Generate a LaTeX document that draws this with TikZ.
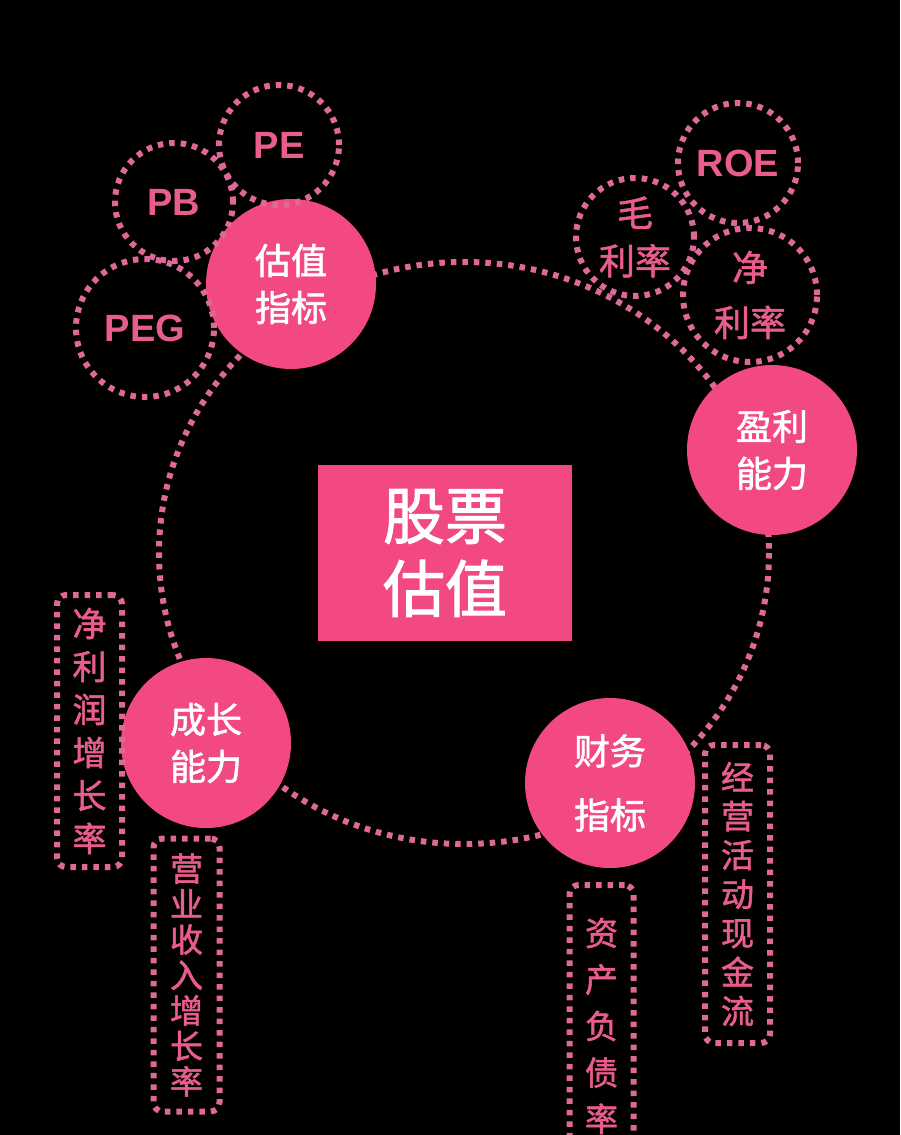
\documentclass[tikz,border=0pt]{standalone}
\usepackage{fontspec}
\newfontfamily\cjk{Noto Sans CJK SC}[AutoFakeBold=1.6]
\newfontfamily\lat{Liberation Sans}
\definecolor{dotcol}{RGB}{222,104,152}
\definecolor{ballpink}{RGB}{242,73,128}
\definecolor{txtpink}{RGB}{232,92,142}
\begin{document}
\begin{tikzpicture}[x=1pt,y=-1pt,
  dots/.style={draw=dotcol, line width=6pt, dash pattern=on 5.5pt off 6pt},
  pinkball/.style={circle, fill=ballpink, minimum size=170pt, inner sep=0pt, text=white, align=center},
  dotball/.style={circle, dots, inner sep=0pt, text=txtpink, align=center},
  vbox/.style={rectangle, rounded corners=9pt, dots, inner sep=0pt, text=txtpink, align=center},
  balltxt/.style={font=\cjk\bfseries\fontsize{36}{47}\selectfont},
  latxt/.style={font=\lat\bfseries\fontsize{38}{44}\selectfont},
  dottxt/.style={font=\cjk\bfseries\fontsize{36}{48}\selectfont},
]
\clip (0,0) rectangle (900,1135);
\fill[black] (0,0) rectangle (900,1135);

% ring
\draw[dots] (464,553) ellipse [x radius=305, y radius=291];

% centre
\node[rectangle, fill=ballpink, minimum width=254pt, minimum height=176pt, inner sep=0pt,
      text=white, align=center, font=\cjk\bfseries\fontsize{62}{73}\selectfont] (main) at (445,553) {股票\\估值};

% filled circles
\node[pinkball, balltxt] (gz) at (291,284) {估值\\指标};
\node[pinkball, balltxt] (yl) at (772,450) {盈利\\能力};
\node[pinkball, font=\cjk\bfseries\fontsize{36}{64}\selectfont] (cw) at (610,783) {财务\\指标};
\node[pinkball, balltxt] (cz) at (206,743) {成长\\能力};

% dotted circles
\node[dotball, latxt, minimum size=120pt] (pe) at (279,145) {PE};
\node[dotball, latxt, minimum size=118pt] (pb) at (174,202) {PB};
\node[dotball, latxt, minimum size=138pt] (peg) at (145,328) {PEG};
\node[dotball, latxt, minimum size=120pt] (roe) at (738,163) {ROE};
\node[dotball, dottxt, minimum size=118pt] (mll) at (635,237) {毛\\利率};
\node[dotball, font=\cjk\bfseries\fontsize{36}{55}\selectfont, minimum size=134pt] (jll) at (750,295) {净\\利率};

% vertical boxes
\node[vbox, minimum width=65pt, minimum height=272pt, font=\cjk\bfseries\fontsize{34}{43}\selectfont]
  (jlr) at (89.5,731) {净\\利\\润\\增\\长\\率};
\node[vbox, minimum width=66pt, minimum height=273pt, font=\cjk\bfseries\fontsize{33}{35.5}\selectfont]
  (yysr) at (186.5,975) {营\\业\\收\\入\\增\\长\\率};
\node[vbox, minimum width=64pt, minimum height=282pt, font=\cjk\bfseries\fontsize{33}{46.5}\selectfont]
  (zcfz) at (601.5,1026) {资\\产\\负\\债\\率};
\node[vbox, minimum width=65pt, minimum height=298pt, font=\cjk\bfseries\fontsize{33}{39}\selectfont]
  (jyxj) at (737.5,894) {经\\营\\活\\动\\现\\金\\流};
\end{tikzpicture}
\end{document}
